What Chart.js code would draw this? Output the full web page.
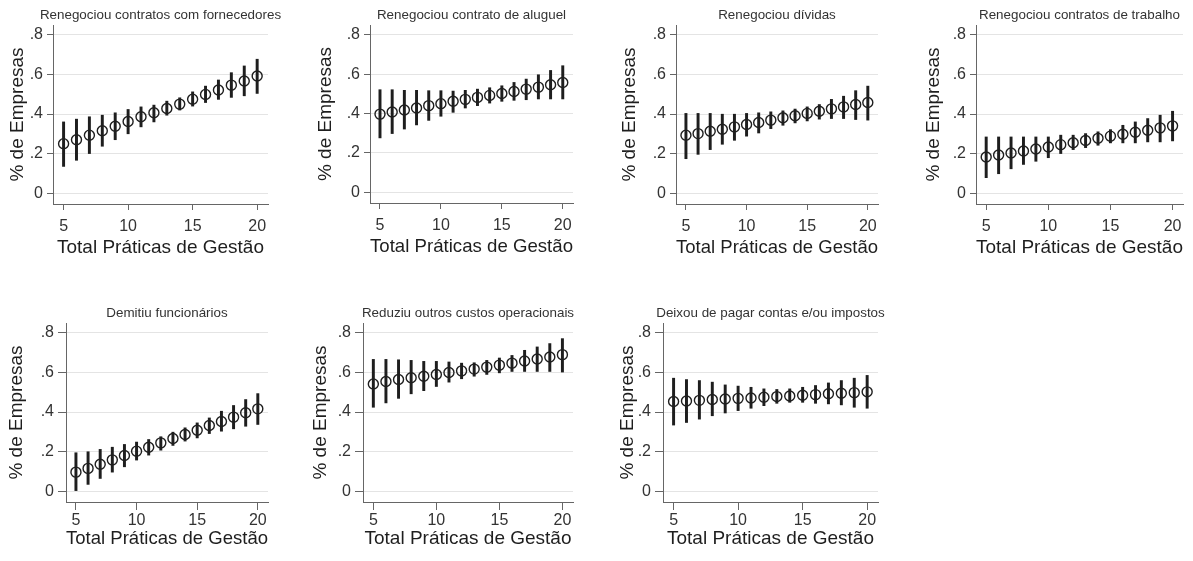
<!DOCTYPE html>
<html>
<head>
<meta charset="utf-8">
<script src="https://cdn.jsdelivr.net/npm/chart.js@4.4.1/dist/chart.umd.min.js"></script>
<style>
  html, body { margin: 0; padding: 0; background: #fff; }
  body { width: 1193px; height: 561px; position: relative; overflow: hidden; }
  canvas { position: absolute; }
</style>
</head>
<body>
<script>
// x categories and tick labels
const practices = [5, 6, 7, 8, 9, 10, 11, 12, 13, 14, 15, 16, 17, 18, 19, 20];
const xTicks = [5, 10, 15, 20];
const yTicks = [0, 0.2, 0.4, 0.6, 0.8];
const yTickLabels = ['0', '.2', '.4', '.6', '.8'];
const xAxisTitle = 'Total Práticas de Gestão';
const yAxisTitle = '% de Empresas';

const panelTitles = [
    'Renegociou contratos com fornecedores',
    'Renegociou contrato de aluguel',
    'Renegociou dívidas',
    'Renegociou contratos de trabalho',
    'Demitiu funcionários',
    'Reduziu outros custos operacionais',
    'Deixou de pagar contas e/ou impostos'
];

// point estimates and confidence intervals
const fornecedoresMean = [0.250, 0.270, 0.293, 0.315, 0.338, 0.362, 0.386, 0.406, 0.428, 0.450, 0.475, 0.499, 0.521, 0.546, 0.567, 0.592];
const fornecedoresLo   = [0.135, 0.166, 0.200, 0.237, 0.270, 0.300, 0.335, 0.360, 0.394, 0.420, 0.440, 0.458, 0.474, 0.484, 0.492, 0.504];
const fornecedoresHi   = [0.360, 0.374, 0.386, 0.394, 0.406, 0.423, 0.436, 0.445, 0.465, 0.482, 0.512, 0.541, 0.572, 0.609, 0.643, 0.677];

const aluguelMean = [0.397, 0.408, 0.418, 0.428, 0.440, 0.450, 0.462, 0.472, 0.482, 0.492, 0.502, 0.512, 0.524, 0.534, 0.546, 0.558];
const aluguelLo   = [0.276, 0.298, 0.321, 0.342, 0.365, 0.386, 0.406, 0.428, 0.440, 0.453, 0.462, 0.467, 0.470, 0.474, 0.474, 0.474];
const aluguelHi   = [0.521, 0.521, 0.518, 0.518, 0.516, 0.516, 0.514, 0.518, 0.524, 0.531, 0.541, 0.558, 0.575, 0.597, 0.619, 0.643];

const dividasMean = [0.293, 0.301, 0.313, 0.323, 0.335, 0.347, 0.357, 0.369, 0.381, 0.391, 0.403, 0.414, 0.426, 0.436, 0.448, 0.458];
const dividasLo   = [0.174, 0.196, 0.220, 0.247, 0.267, 0.288, 0.304, 0.326, 0.343, 0.355, 0.365, 0.374, 0.377, 0.377, 0.372, 0.369];
const dividasHi   = [0.403, 0.403, 0.403, 0.399, 0.399, 0.403, 0.406, 0.411, 0.416, 0.425, 0.436, 0.448, 0.474, 0.490, 0.518, 0.541];

const trabalhoMean = [0.183, 0.193, 0.203, 0.213, 0.223, 0.233, 0.245, 0.255, 0.266, 0.277, 0.288, 0.298, 0.308, 0.318, 0.330, 0.340];
const trabalhoLo   = [0.078, 0.098, 0.123, 0.145, 0.161, 0.179, 0.200, 0.220, 0.230, 0.242, 0.254, 0.254, 0.254, 0.259, 0.259, 0.264];
const trabalhoHi   = [0.284, 0.284, 0.284, 0.284, 0.284, 0.284, 0.293, 0.293, 0.301, 0.310, 0.321, 0.343, 0.360, 0.377, 0.394, 0.414];

const demitiuMean = [0.096, 0.115, 0.136, 0.158, 0.180, 0.202, 0.222, 0.244, 0.266, 0.286, 0.308, 0.332, 0.352, 0.374, 0.396, 0.416];
const demitiuLo   = [0.000, 0.034, 0.064, 0.096, 0.123, 0.157, 0.182, 0.207, 0.231, 0.253, 0.269, 0.291, 0.303, 0.315, 0.328, 0.337];
const demitiuHi   = [0.194, 0.199, 0.211, 0.222, 0.236, 0.248, 0.261, 0.275, 0.298, 0.320, 0.345, 0.370, 0.404, 0.433, 0.463, 0.493];

const custosMean = [0.542, 0.554, 0.564, 0.573, 0.581, 0.590, 0.600, 0.608, 0.617, 0.627, 0.637, 0.647, 0.658, 0.668, 0.678, 0.690];
const custosLo   = [0.424, 0.446, 0.469, 0.492, 0.508, 0.529, 0.551, 0.568, 0.581, 0.590, 0.598, 0.605, 0.605, 0.605, 0.605, 0.602];
const custosHi   = [0.666, 0.666, 0.664, 0.661, 0.656, 0.656, 0.653, 0.647, 0.649, 0.661, 0.673, 0.686, 0.712, 0.729, 0.746, 0.771];

const impostosMean = [0.453, 0.456, 0.459, 0.463, 0.466, 0.469, 0.471, 0.475, 0.478, 0.481, 0.485, 0.488, 0.492, 0.495, 0.498, 0.502];
const impostosLo   = [0.334, 0.347, 0.364, 0.381, 0.395, 0.407, 0.419, 0.432, 0.444, 0.449, 0.449, 0.444, 0.441, 0.436, 0.424, 0.419];
const impostosHi   = [0.571, 0.564, 0.559, 0.551, 0.537, 0.531, 0.525, 0.517, 0.514, 0.517, 0.525, 0.534, 0.547, 0.559, 0.571, 0.585];

const panelSeries = [
    [fornecedoresMean, fornecedoresLo, fornecedoresHi],
    [aluguelMean, aluguelLo, aluguelHi],
    [dividasMean, dividasLo, dividasHi],
    [trabalhoMean, trabalhoLo, trabalhoHi],
    [demitiuMean, demitiuLo, demitiuHi],
    [custosMean, custosLo, custosHi],
    [impostosMean, impostosLo, impostosHi]
];

// plot-area boxes on the page (left, top, right, bottom) + y title centre
const panelBoxes = [
    { L: 53,  T: 25,  R: 268,  B: 204, yt: 17,  row: 0 },
    { L: 370, T: 25,  R: 573,  B: 203, yt: 325, row: 0 },
    { L: 676, T: 25,  R: 878,  B: 204, yt: 629, row: 0 },
    { L: 976, T: 25,  R: 1183, B: 204, yt: 933, row: 0 },
    { L: 66,  T: 323, R: 268,  B: 502, yt: 16,  row: 1 },
    { L: 363, T: 323, R: 573,  B: 502, yt: 320, row: 1 },
    { L: 663, T: 323, R: 878,  B: 502, yt: 627, row: 1 }
];
const rowStyles = [
    { tickLen: 6, xPad: 7, xHeight: 55 },
    { tickLen: 8, xPad: 1, xHeight: 48 }
];

const FONT = '"Liberation Sans", Arial, Helvetica, sans-serif';
const INK = '#1e1e1e';
const AXIS = '#666';

// title centred over the plot region, like Stata does
const panelTitle = {
    id: 'panelTitle',
    afterDraw(chart, args, opts) {
        const { ctx, chartArea } = chart;
        ctx.save();
        ctx.font = '13.4px ' + FONT;
        ctx.fillStyle = '#333';
        ctx.textAlign = 'center';
        ctx.textBaseline = 'middle';
        ctx.fillText(opts.text, (chartArea.left + chartArea.right) / 2, chartArea.top - 10);
        ctx.restore();
    }
};

function makePanel(i) {
    const box = panelBoxes[i];
    const style = rowStyles[box.row];
    const [mean, lo, hi] = panelSeries[i];

    const padTop = 25, padRight = 20;
    const canvasLeft = box.yt - 11;
    const canvasTop = box.T - padTop;
    const width = box.R + padRight - canvasLeft;
    const height = box.B + style.xHeight - canvasTop;

    const canvas = document.createElement('canvas');
    canvas.width = width;
    canvas.height = height;
    canvas.style.left = canvasLeft + 'px';
    canvas.style.top = canvasTop + 'px';
    canvas.style.width = width + 'px';
    canvas.style.height = height + 'px';
    document.body.appendChild(canvas);

    new Chart(canvas, {
        type: 'bar',
        data: {
            datasets: [{
                type: 'bar',
                data: practices.map((x, k) => ({ x: x, y: [lo[k], hi[k]] })),
                backgroundColor: INK,
                borderWidth: 0,
                barThickness: 2.3
            }, {
                type: 'scatter',
                data: practices.map((x, k) => ({ x: x, y: mean[k] })),
                showLine: false,
                pointStyle: 'circle',
                pointRadius: 5,
                pointBorderWidth: 1.4,
                pointBorderColor: INK,
                pointBackgroundColor: 'rgba(0,0,0,0)'
            }]
        },
        options: {
            responsive: false,
            animation: false,
            devicePixelRatio: 1,
            layout: { padding: { top: padTop, right: padRight, left: 0, bottom: 0 } },
            plugins: {
                legend: { display: false },
                tooltip: { enabled: false },
                panelTitle: { text: panelTitles[i] }
            },
            scales: {
                x: {
                    type: 'linear',
                    offset: false,
                    min: 4.18,
                    max: 20.84,
                    afterBuildTicks: s => { s.ticks = xTicks.map(v => ({ value: v })); },
                    afterFit: s => { s.height = style.xHeight; },
                    border: { color: AXIS, width: 1 },
                    grid: { offset: false, drawOnChartArea: false, tickLength: style.tickLen, tickColor: AXIS },
                    ticks: {
                        padding: style.xPad,
                        color: '#333',
                        font: { family: FONT, size: 16 },
                        maxRotation: 0,
                        callback: v => String(v)
                    },
                    title: {
                        display: true,
                        text: xAxisTitle,
                        color: INK,
                        padding: 0,
                        font: { family: FONT, size: 19 }
                    }
                },
                y: {
                    type: 'linear',
                    min: -0.055,
                    max: 0.85,
                    afterBuildTicks: s => { s.ticks = yTicks.map(v => ({ value: v })); },
                    afterFit: s => { s.width = box.L - canvasLeft; },
                    border: { color: AXIS, width: 1 },
                    grid: { color: '#e4e4e4', lineWidth: 1, tickLength: style.tickLen, tickColor: AXIS },
                    ticks: {
                        padding: 4,
                        color: '#333',
                        font: { family: FONT, size: 16 },
                        callback: v => yTickLabels[yTicks.indexOf(v)]
                    },
                    title: {
                        display: true,
                        text: yAxisTitle,
                        color: INK,
                        padding: 0,
                        font: { family: FONT, size: 19 }
                    }
                }
            }
        },
        plugins: [panelTitle]
    });
}

panelBoxes.forEach((b, i) => makePanel(i));
</script>
</body>
</html>
